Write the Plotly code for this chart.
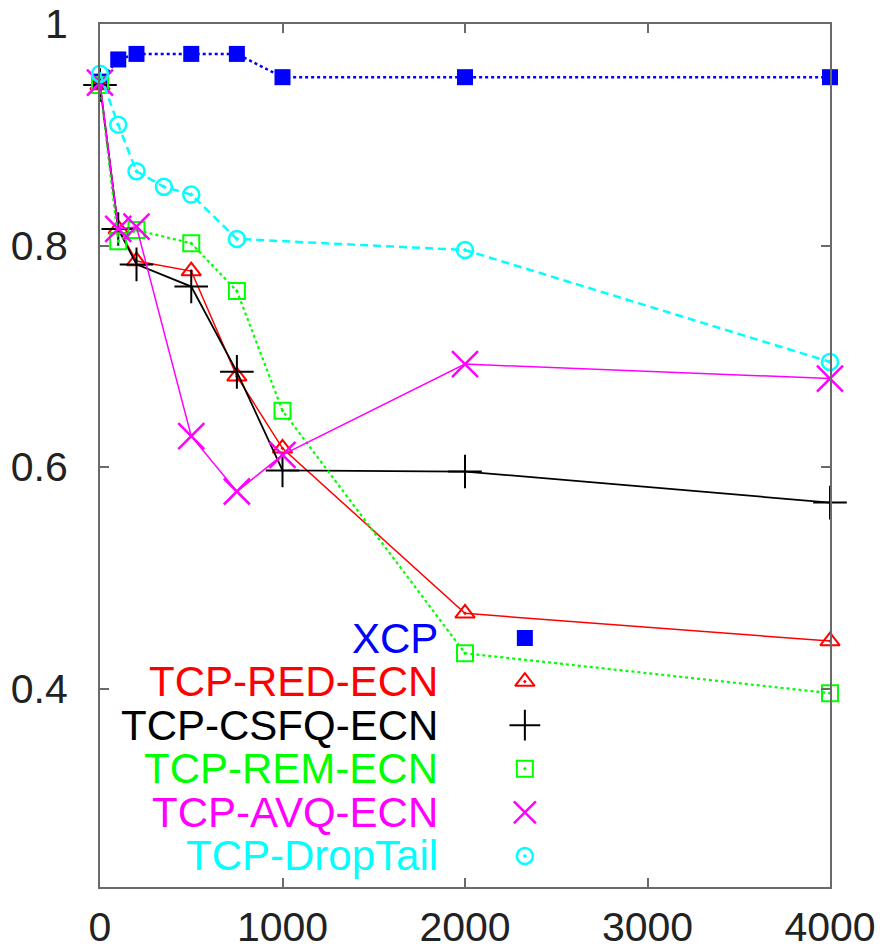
import plotly.graph_objects as go

# ---- data ----
series_names = ["XCP", "TCP-RED-ECN", "TCP-CSFQ-ECN", "TCP-REM-ECN", "TCP-AVQ-ECN", "TCP-DropTail"]

xcp_x = [0, 100, 200, 500, 750, 1000, 2000, 4000]
xcp_y = [0.948, 0.968, 0.973, 0.973, 0.973, 0.952, 0.952, 0.952]

red_x = [0, 100, 200, 500, 750, 1000, 2000, 4000]
red_y = [0.945, 0.815, 0.786, 0.777, 0.682, 0.617, 0.468, 0.443]

csfq_x = [0, 100, 200, 500, 750, 1000, 2000, 4000]
csfq_y = [0.945, 0.815, 0.783, 0.763, 0.686, 0.597, 0.596, 0.568]

rem_x = [0, 100, 200, 500, 750, 1000, 2000, 4000]
rem_y = [0.945, 0.804, 0.814, 0.802, 0.759, 0.651, 0.432, 0.396]

avq_x = [0, 100, 200, 500, 750, 1000, 2000, 4000]
avq_y = [0.947, 0.815, 0.817, 0.628, 0.578, 0.611, 0.693, 0.680]

drop_x = [0, 100, 200, 350, 500, 750, 2000, 4000]
drop_y = [0.955, 0.909, 0.867, 0.853, 0.846, 0.806, 0.796, 0.695]

x_ticks = [0, 1000, 2000, 3000, 4000]
y_ticks = [0.4, 0.6, 0.8, 1.0]
y_ticklabels = ["0.4", "0.6", "0.8", "1"]

# ---- styles ----
colors = ["#0000ff", "#ff0000", "#000000", "#00ff00", "#ff00ff", "#00ffff"]
symbols = ["square", "triangle-up-open-dot", "cross-thin", "square-open-dot", "x-thin", "circle-open-dot"]
msizes = [16, 17, 24, 16, 26, 16]
mlw = [0, 2, 2, 2, 2.5, 2.5]
dashes = ["3px,3px", "solid", "solid", "3px,3px", "solid", "8px,5px"]
lwidths = [2.5, 1.5, 1.8, 2.2, 1.5, 2.5]

data = [(xcp_x, xcp_y), (red_x, red_y), (csfq_x, csfq_y), (rem_x, rem_y), (avq_x, avq_y), (drop_x, drop_y)]

FONT = "Liberation Sans, Arial, Helvetica, sans-serif"
fig = go.Figure()

for i, (xs, ys) in enumerate(data):
    fig.add_trace(go.Scatter(
        x=xs, y=ys, mode="lines+markers", name=series_names[i],
        line=dict(color=colors[i], width=lwidths[i], dash=dashes[i]),
        marker=dict(symbol=symbols[i], size=msizes[i], color=colors[i],
                    line=dict(color=colors[i], width=mlw[i])),
        showlegend=False, cliponaxis=False,
    ))

# ---- custom legend (text right-aligned, key at right) ----
leg_text_x = 0.466
leg_key_x = 0.582
leg_y0 = 0.2885
leg_dy = 0.0505
for i, name in enumerate(series_names):
    yy = leg_y0 - i * leg_dy
    fig.add_trace(go.Scatter(
        x=[leg_key_x], y=[yy], xaxis="x2", yaxis="y2", mode="markers",
        marker=dict(symbol=symbols[i], size=msizes[i] if i not in (2, 4) else 22, color=colors[i],
                    line=dict(color=colors[i], width=mlw[i])),
        showlegend=False, hoverinfo="skip",
    ))
    fig.add_annotation(
        x=leg_text_x, y=yy, xref="x2", yref="y2", text=name, showarrow=False,
        xanchor="right", yanchor="middle",
        font=dict(family=FONT, size=42, color=colors[i]),
    )

axis_common = dict(
    showgrid=False, zeroline=False, showline=True, linecolor="#6a6a6a", linewidth=2,
    mirror="ticks", ticks="inside", ticklen=9, tickwidth=1.5, tickcolor="#6a6a6a",
    tickfont=dict(family=FONT, size=41, color="#222222"), automargin=False,
)

fig.update_layout(
    width=880, height=950,
    margin=dict(l=100, r=50, t=24, b=63),
    paper_bgcolor="white", plot_bgcolor="white",
    xaxis=dict(range=[0, 4000], tickvals=x_ticks, ticktext=[str(v) for v in x_ticks],
               ticklabelstandoff=3, **axis_common),
    yaxis=dict(range=[0.221, 1.0], tickvals=y_ticks, ticktext=y_ticklabels,
               ticklabelstandoff=22, **axis_common),
    xaxis2=dict(range=[0, 1], overlaying="x", visible=False, fixedrange=True),
    yaxis2=dict(range=[0, 1], overlaying="y", visible=False, fixedrange=True),
)

fig.write_html("out.html")
